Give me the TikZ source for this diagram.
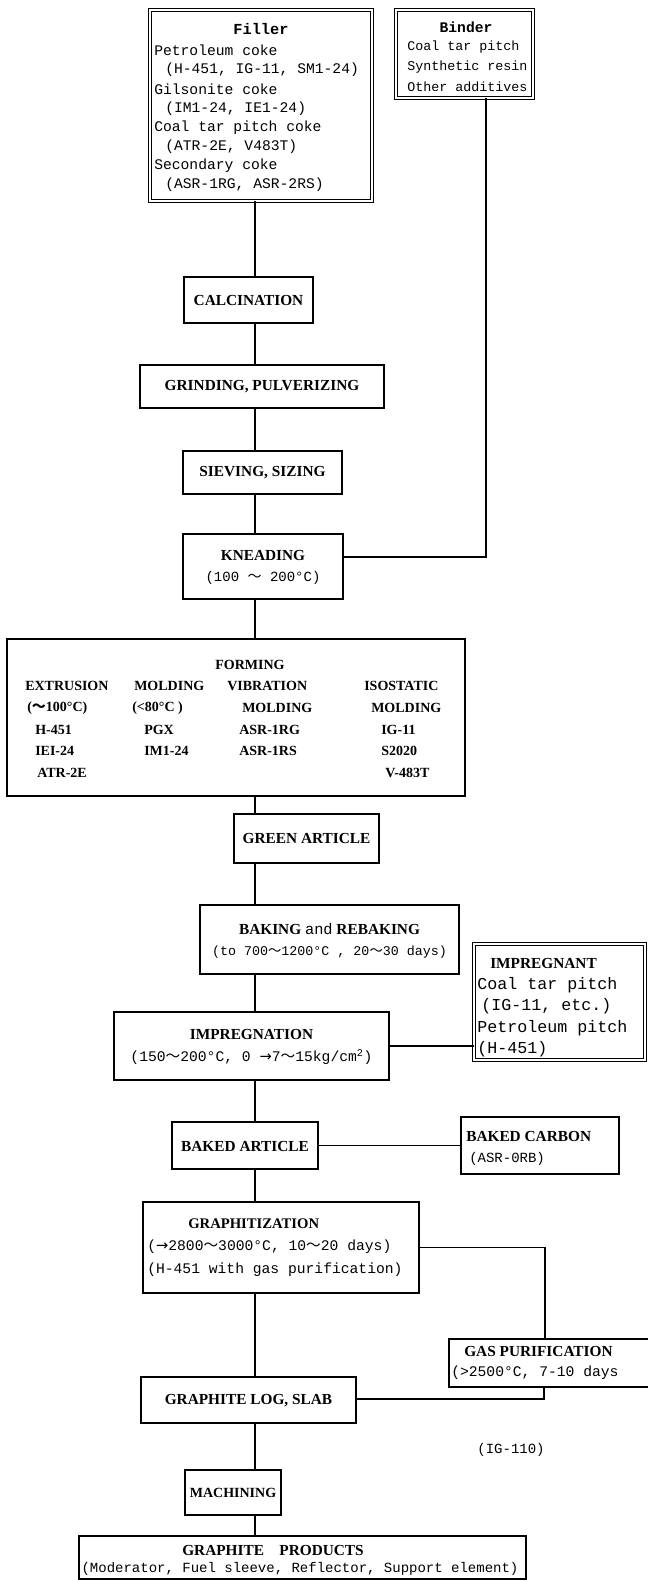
\documentclass[tikz,border=0pt]{standalone}
\usepackage{fontspec}
\setmainfont{Liberation Serif}
\newfontfamily\mono{Liberation Mono}
\newfontfamily\dv{DejaVu Sans}
\newfontfamily\cjk{Noto Sans CJK JP}
\newcommand\wv{{\cjk 〜}}
\newcommand\arr{{\dv →}}
\tikzset{
  box/.style={draw, line width=0.8pt, inner sep=0pt},
  dbox/.style={draw, double, double distance=1.3pt, line width=0.5pt, inner sep=0pt},
  lbl/.style={font=\bfseries\fontsize{11.5}{13}\selectfont, inner sep=0pt},
  flbl/.style={font=\bfseries\fontsize{10.5}{12}\selectfont, inner sep=0pt, anchor=west},
  mt/.style={font=\mono\fontsize{10.5}{12}\selectfont, inner sep=0pt},
  fm/.style={font=\mono\fontsize{11}{12}\selectfont, inner sep=0pt, anchor=west},
  bm/.style={font=\mono\fontsize{10}{12}\selectfont, inner sep=0pt, anchor=west},
  im/.style={font=\mono\fontsize{12.5}{14}\selectfont, inner sep=0pt, anchor=west},
  ln/.style={line width=0.8pt}
}
\newcommand\mybox[6][box]{\node[#1, minimum width=#4*0.75pt, minimum height=#5*0.75pt] (#2) at (#3) {#6};}
\begin{document}
\begin{tikzpicture}[x=0.75pt,y=-0.75pt]
\useasboundingbox (0,0) rectangle (647,1580);
% boxes
\mybox[dbox]{filler}{261,105.5}{222}{191}{}
\mybox[dbox]{binder}{464.5,54}{137}{88}{}
\mybox{calc}{248.5,300}{129}{46}{}
\mybox{grind}{262,386.5}{244}{43}{}
\mybox{siev}{262.5,472.5}{159}{43}{}
\mybox{knead}{263,566.5}{160}{65}{}
\mybox{form}{236,717.5}{458}{157}{}
\mybox{green}{306.5,838.5}{145}{49}{}
\mybox{bake}{329.5,939.5}{259}{69}{}
\mybox[dbox]{impt}{559.5,1002}{171}{116}{}
\mybox{impg}{251.5,1046}{275}{68}{}
\mybox{bart}{245,1145.5}{146}{47}{}
\mybox{bcarb}{540,1145.5}{158}{57}{}
\mybox{graph}{281,1247.5}{276}{91}{}
\mybox{gas}{554.5,1363}{211}{48}{}
\mybox{glog}{248.5,1400}{215}{46}{}
\mybox{mach}{233,1492.5}{96}{45}{}
\mybox{prod}{302.5,1557.5}{447}{43}{}

% texts: filler
\node[font=\mono\bfseries\fontsize{11.5}{12}\selectfont, inner sep=0pt] (tfil) at (261,29) {Filler};
\node[fm] (f1) at (154,50) {Petroleum coke};
\node[fm] (f2) at (165,70) {(H-451, IG-11, SM1-24)};
\node[fm] (f3) at (154,89) {Gilsonite coke};
\node[fm] (f4) at (165,109) {(IM1-24, IE1-24)};
\node[fm] (f5) at (154,128) {Coal tar pitch coke};
\node[fm] (f6) at (165,147) {(ATR-2E, V483T)};
\node[fm] (f7) at (154,166) {Secondary coke};
\node[fm] (f8) at (165,185) {(ASR-1RG, ASR-2RS)};
% binder
\node[font=\mono\bfseries\fontsize{11}{12}\selectfont, inner sep=0pt] (tbin) at (466,27) {Binder};
\node[bm] (b1) at (407,47) {Coal tar pitch};
\node[bm] (b2) at (407,67) {Synthetic resin};
\node[bm] (b3) at (407,87) {Other additives};

\node[lbl] (tcalc) at (248.5,300) {CALCINATION};
\node[lbl] (tgrind) at (262,386.5) {GRINDING, PULVERIZING};
\node[lbl] (tsiev) at (262.5,472.5) {SIEVING, SIZING};
\node[lbl] (tknead) at (263,555) {KNEADING};
\node[mt] (tknead2) at (263,578) {(100 \wv\ 200°C)};

% forming
\node[lbl, font=\bfseries\fontsize{10.5}{12}\selectfont] (tform) at (250,665) {FORMING};
\node[flbl] (e1) at (25,686) {EXTRUSION};
\node[flbl] (e2) at (27,708) {(\wv100°C)};
\node[flbl] (e3) at (35,730) {H-451};
\node[flbl] (e4) at (35,751) {IEI-24};
\node[flbl] (e5) at (37,773) {ATR-2E};
\node[flbl] (m1) at (134,686) {MOLDING};
\node[flbl] (m2) at (132,708) {(<80°C )};
\node[flbl] (m3) at (144,730) {PGX};
\node[flbl] (m4) at (144,751) {IM1-24};
\node[flbl] (v1) at (227,686) {VIBRATION};
\node[flbl] (v2) at (242,708) {MOLDING};
\node[flbl] (v3) at (239,730) {ASR-1RG};
\node[flbl] (v4) at (239,751) {ASR-1RS};
\node[flbl] (i1) at (364,686) {ISOSTATIC};
\node[flbl] (i2) at (371,708) {MOLDING};
\node[flbl] (i3) at (381,730) {IG-11};
\node[flbl] (i4) at (381,751) {S2020};
\node[flbl] (i5) at (385,773) {V-483T};

\node[lbl] (tgreen) at (306.5,838.5) {GREEN ARTICLE};
\node[lbl] (tbake) at (329.5,929) {BAKING {\mono\mdseries and} REBAKING};
\node[mt, font=\mono\fontsize{10}{12}\selectfont] (tbake2) at (329.5,952) {(to 700\wv1200°C , 20\wv30 days)};

% impregnant
\node[flbl, font=\bfseries\fontsize{11.5}{12}\selectfont] (ti) at (490,963) {IMPREGNANT};
\node[im] (ti1) at (477,985) {Coal tar pitch};
\node[im] (ti2) at (481,1006) {(IG-11, etc.)};
\node[im] (ti3) at (477,1028) {Petroleum pitch};
\node[im] (ti4) at (477,1049) {(H-451)};

\node[lbl] (timpg) at (251.5,1034) {IMPREGNATION};
\node[mt, font=\mono\fontsize{11}{12}\selectfont] (timpg2) at (251.5,1057) {(150\wv200°C, 0 \arr7\wv15kg/cm\textsuperscript{2})};

\node[lbl] (tbart) at (245,1146) {BAKED ARTICLE};
\node[flbl, font=\bfseries\fontsize{11.5}{12}\selectfont] (tbc) at (466,1136) {BAKED CARBON};
\node[fm, font=\mono\fontsize{10.5}{12}\selectfont] (tbc2) at (469,1159) {(ASR-0RB)};

\node[flbl, font=\bfseries\fontsize{11}{12}\selectfont] (tgr) at (188,1224) {GRAPHITIZATION};
\node[fm, font=\mono\fontsize{11}{12}\selectfont] (tgr2) at (147,1247) {(\arr2800\wv3000°C, 10\wv20 days)};
\node[fm, font=\mono\fontsize{11}{12}\selectfont] (tgr3) at (147,1270) {(H-451 with gas purification)};

\node[flbl, font=\bfseries\fontsize{11.5}{12}\selectfont] (tgas) at (464,1351) {GAS PURIFICATION};
\node[fm, font=\mono\fontsize{11}{12}\selectfont] (tgas2) at (451,1373) {(>2500°C, 7-10 days};

\node[lbl] (tglog) at (248.5,1401) {GRAPHITE LOG, SLAB};
\node[mt] (tig) at (511,1450) {(IG-110)};
\node[lbl, font=\bfseries\fontsize{10.5}{12}\selectfont] (tmach) at (233,1493) {MACHINING};
\node[lbl] (tprod) at (273,1550) {GRAPHITE\quad PRODUCTS};
\node[mt] (tprod2) at (300,1569) {(Moderator, Fuel sleeve, Reflector, Support element)};

% connectors
\coordinate (mx) at (255,0);
\draw[ln] (filler.south -| mx) -- (calc.north -| mx);
\draw[ln] (calc.south -| mx) -- (grind.north -| mx);
\draw[ln] (grind.south -| mx) -- (siev.north -| mx);
\draw[ln] (siev.south -| mx) -- (knead.north -| mx);
\draw[ln] (knead.south -| mx) -- (form.north -| mx);
\draw[ln] (form.south -| mx) -- (green.north -| mx);
\draw[ln] (green.south -| mx) -- (bake.north -| mx);
\draw[ln] (bake.south -| mx) -- (impg.north -| mx);
\draw[ln] (impg.south -| mx) -- (bart.north -| mx);
\draw[ln] (bart.south -| mx) -- (graph.north -| mx);
\draw[ln] (graph.south -| mx) -- (glog.north -| mx);
\draw[ln] (glog.south -| mx) -- (mach.north -| mx);
\draw[ln] (mach.south -| mx) -- (prod.north -| mx);
\coordinate (bk) at (486,557);
\draw[ln] (binder.south -| bk) -- (bk) -- (bk -| knead.east);
\draw[ln] (impg.east) -- (impg.east -| impt.west);
\draw[ln] (bart.east) -- (bart.east -| bcarb.west);
\coordinate (gx) at (545,0);
\draw[ln] (graph.east) -- (graph.east -| gx) -- (gas.north -| gx);
\coordinate (gy) at (544,1399);
\draw[ln] (gas.south -| gy) -- (gy) -- (gy -| glog.east);
\end{tikzpicture}
\end{document}
